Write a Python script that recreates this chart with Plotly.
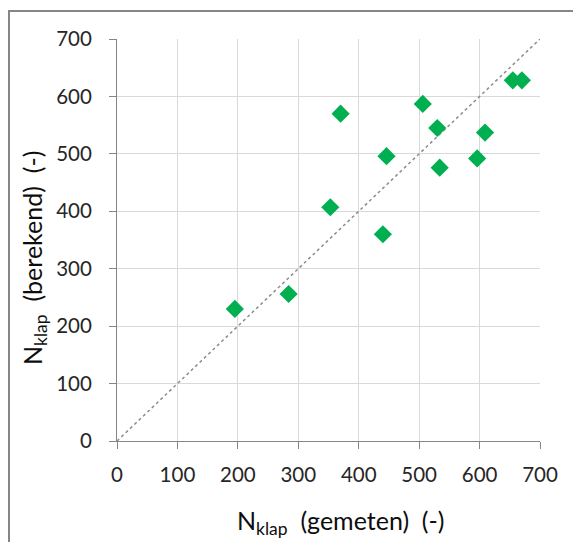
import plotly.graph_objects as go

gemeten = [195, 284, 353, 370, 440, 446, 506, 530, 534, 596, 609, 655, 670]
berekend = [230, 256, 407, 570, 360, 496, 587, 545, 476, 492, 537, 628, 628]
line_x = [0, 700]
line_y = [0, 700]
tick_vals = [0, 100, 200, 300, 400, 500, 600, 700]

FONT = "Lato"
fig = go.Figure()
fig.add_trace(go.Scatter(x=line_x, y=line_y, mode="lines",
                         line=dict(color="#8c8c8c", width=1.5, dash="3px,3px"),
                         showlegend=False, hoverinfo="skip"))
fig.add_trace(go.Scatter(x=gemeten, y=berekend, mode="markers",
                         marker=dict(symbol="diamond", size=14, color="#00B050"),
                         showlegend=False))

axis_common = dict(range=[0, 700], tickvals=tick_vals, showgrid=True, gridcolor="#d9d9d9",
                   gridwidth=1, zeroline=False, showline=True, linecolor="#868686", linewidth=1,
                   ticks="outside", ticklen=7, tickcolor="#868686",
                   tickfont=dict(family=FONT, size=20.5, color="#262626"))
fig.update_xaxes(**axis_common, ticklabelstandoff=8)
fig.update_yaxes(**axis_common, ticklabelstandoff=13)

fig.update_layout(
    width=573, height=542,
    margin=dict(l=117, r=33, t=39, b=101),
    plot_bgcolor="white", paper_bgcolor="white",
    annotations=[
        dict(text="N<sub>klap</sub>&nbsp; (gemeten)&nbsp; (-)", xref="paper", yref="paper",
             x=(341 - 117) / 423, y=-(522 - 441) / 402, showarrow=False,
             xanchor="center", yanchor="middle", font=dict(family=FONT, size=25, color="#0d0d0d")),
        dict(text="N<sub>klap</sub>&nbsp; (berekend)&nbsp; (-)", xref="paper", yref="paper",
             x=-(117 - 34) / 423, y=(441 - 258) / 402, showarrow=False, textangle=-90,
             xanchor="center", yanchor="middle", font=dict(family=FONT, size=25, color="#0d0d0d")),
    ],
    shapes=[dict(type="rect", xref="paper", yref="paper",
                 x0=-(117 - 9) / 423, x1=(580 - 117) / 423,
                 y0=-(560 - 441) / 402, y1=(441 - 11) / 402,
                 line=dict(color="#868686", width=2), layer="below")],
)
fig.write_html("out.html")
